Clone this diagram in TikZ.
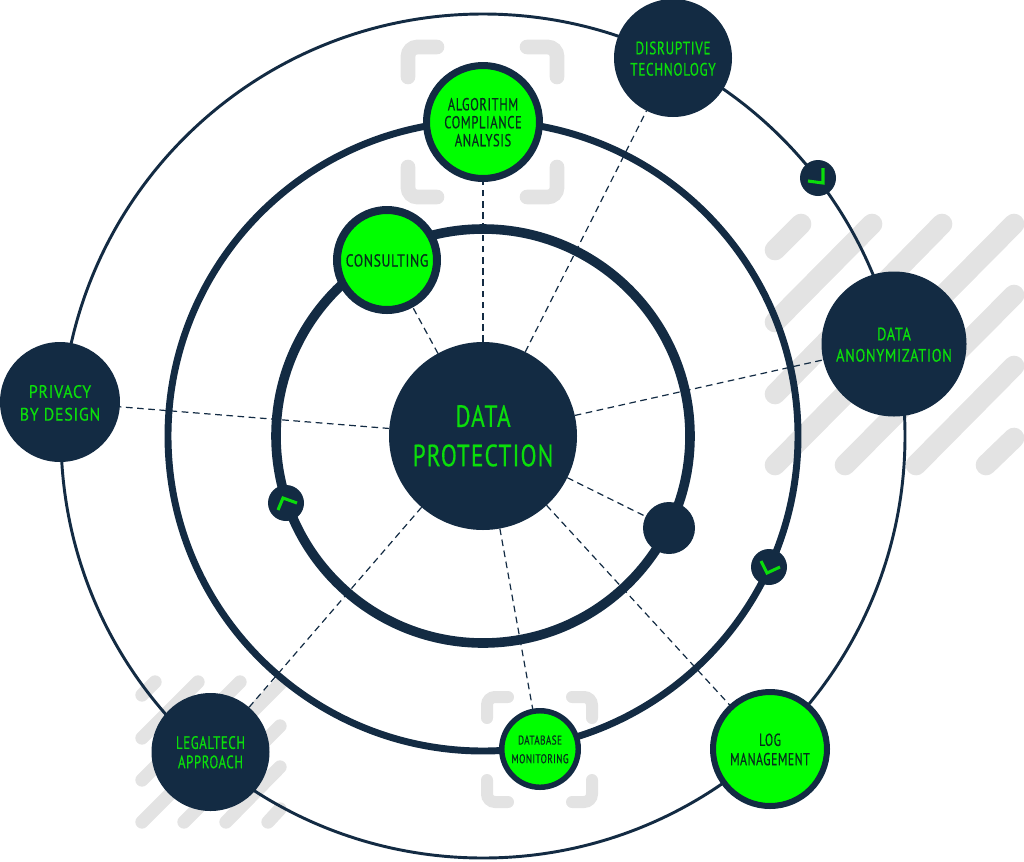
\documentclass[tikz,border=0pt]{standalone}
\usepackage{fontspec}
\setmainfont{PT Sans}[FakeStretch=0.82,LetterSpace=4,FakeBold=0.5]
\definecolor{navy}{HTML}{132B43}
\definecolor{lime}{HTML}{00FF00}
\definecolor{limetxt}{HTML}{0BDD0B}
\definecolor{inkg}{HTML}{062E1C}
\definecolor{pale}{HTML}{E3E3E3}
\newcommand{\tw}[3][-2pt]{\raisebox{#1}[\height][\depth]{\scalebox{#2}[1]{\begin{tabular}{@{}c@{}}#3\end{tabular}}}}
\begin{document}
\begin{tikzpicture}[x=0.75pt,y=-0.75pt,
  ring/.style={draw=navy},
  link/.style={draw=navy,line width=0.9pt,dash pattern=on 5pt off 3.4pt},
  stripeA/.style={draw=pale,line width=15.5pt,line cap=round},
  stripeB/.style={draw=pale,line width=10pt,line cap=round},
  frameA/.style={draw=pale,line width=11pt,line cap=round,rounded corners=7pt},
  frameB/.style={draw=pale,line width=9pt,line cap=round,rounded corners=6pt},
  dark/.style={circle,fill=navy,text=limetxt,inner sep=0pt,outer sep=0pt,align=center,font=\fontsize{13.5pt}{16pt}\selectfont},
  bright/.style={circle,fill=lime,draw=navy,text=inkg,inner sep=0pt,outer sep=0pt,align=center,font=\fontsize{13pt}{14.5pt}\selectfont},
  dot/.style={circle,fill=navy,inner sep=0pt,outer sep=0pt},
  tick/.style={draw=limetxt,line width=2.3pt}]
\useasboundingbox (0,0) rectangle (1024,861);
% stripes
\foreach \a/\b/\c/\d in {775/250/801/224,775/322/872/224,775/394/942/224,775/465/1014/224,845/465/1014/295,916/465/1014/366,986/465/1014/438}
  \draw[stripeA] (\a,\b) -- (\c,\d);
\foreach \a/\b/\c/\d in {142/695/155/682,142/738/198/682,142/780/240/682,142/822/282/682,184/822/280/726,226/822/280/767,268/822/280/809}
  \draw[stripeB] (\a,\b) -- (\c,\d);
% frames
\draw[frameA] (408,77) -- (408,47) -- (437,47);
\draw[frameA] (527,47) -- (557,47) -- (557,77);
\draw[frameA] (408,167) -- (408,197) -- (437,197);
\draw[frameA] (527,197) -- (557,197) -- (557,167);
\draw[frameB] (487,718) -- (487,697) -- (508,697);
\draw[frameB] (572,697) -- (592,697) -- (592,718);
\draw[frameB] (487,780) -- (487,802) -- (508,802);
\draw[frameB] (572,802) -- (592,802) -- (592,780);
% rings
\coordinate (c) at (483,436);
\draw[ring,line width=2.2pt] (c) circle [radius=422];
\draw[ring,line width=5.2pt] (c) circle [radius=315];
\draw[ring,line width=7.2pt] (c) circle [radius=207];
% nodes
\node[dark,minimum size=141pt,font=\fontsize{23pt}{29.5pt}\selectfont] (core) at (483,436) {\tw{0.93}{DATA\\PROTECTION}};
\node[dark,minimum size=88.5pt] (disrupt) at (673,58) {\tw{0.9}{DISRUPTIVE\\TECHNOLOGY}};
\node[dark,minimum size=108.75pt] (anon) at (894,344) {\tw{0.97}{DATA\\ANONYMIZATION}};
\node[dark,minimum size=90pt,font=\fontsize{13.5pt}{17pt}\selectfont] (privacy) at (60,402) {\tw{1.08}{PRIVACY\\BY DESIGN}};
\node[dark,minimum size=88.5pt,font=\fontsize{13.5pt}{14.5pt}\selectfont] (legal) at (210.5,752) {\tw{0.87}{LEGALTECH\\APPROACH}};
\node[bright,line width=5.25pt,minimum size=84.75pt,font=\fontsize{13pt}{13.5pt}\selectfont] (algo) at (483,122) {\tw{0.88}{ALGORITHM\\COMPLIANCE\\ANALYSIS}};
\node[bright,line width=6pt,minimum size=75pt] (consult) at (387,260) {\tw{0.96}{CONSULTING}};
\node[bright,line width=4.1pt,minimum size=57.4pt,font=\fontsize{9.5pt}{14pt}\selectfont] (dbm) at (540,749) {\tw[-0.8pt]{0.88}{DATABASE\\MONITORING}};
\node[bright,line width=4.5pt,minimum size=85.5pt] (logm) at (770,749) {\tw{0.83}{LOG\\MANAGEMENT}};
\node[dot,minimum size=39pt] (bigdot) at (669,528) {};
\node[dot,minimum size=27pt] (chkA) at (818,178) {};
\node[dot,minimum size=27pt] (chkB) at (769,567) {};
\node[dot,minimum size=27pt] (chkC) at (286,503) {};
% ticks
\draw[tick] (808,181) -- (823,183) -- (823,168);
\draw[tick] (761,561) -- (767,573) -- (780,567);
\draw[tick] (278,510) -- (283,498) -- (297,503);
% dashed links
\foreach \t in {disrupt,anon,privacy,legal,algo,consult,dbm,logm,bigdot}
  \draw[link] (core) -- (\t);
\end{tikzpicture}
\end{document}
